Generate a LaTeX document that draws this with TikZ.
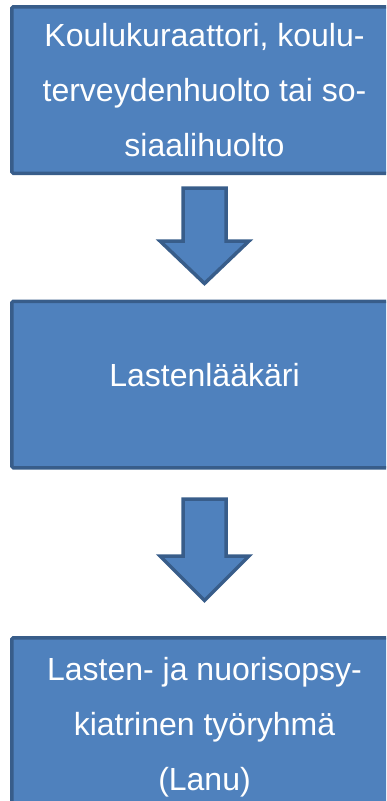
\documentclass[tikz,border=0pt]{standalone}
\usepackage{fontspec}
\setmainfont{Liberation Sans}
\usepackage{tikz}

\definecolor{laatikkosini}{HTML}{4F81BD}
\definecolor{reunasini}{HTML}{385D8A}

\tikzset{
  laatikko/.style={draw=reunasini, fill=laatikkosini, line width=3.5pt,
    rounded corners=1.5pt, minimum width=385.5pt, minimum height=166.5pt,
    align=center, text=white, inner sep=0pt,
    font=\fontsize{32}{55}\selectfont},
  nuoli/.style={draw=reunasini, fill=laatikkosini, line width=3.5pt}
}

\begin{document}
\begin{tikzpicture}[x=1pt,y=-1pt]
        \useasboundingbox (0,0) rectangle (386,801);
        \clip (0,0) rectangle (386,801);
        % the three steps
        \node[laatikko] (kuraattori) at (204.5,90) {Koulukuraattori, koulu-\\terveydenhuolto tai so-\\siaalihuolto};
        \node[laatikko, text depth=20pt] (laakari) at (204.5,384.5) {Lastenlääkäri};
        \node[laatikko] (lanu) at (204.5,721) {\rule{0pt}{36pt}Lasten- ja nuorisopsy-\\kiatrinen työryhmä\\(Lanu)};
        % block arrows between them
        \foreach \ylin/\kanta/\karki in {188/241/283.5, 499/556/600.5}
            \draw[nuoli] (183,\ylin) -- (226,\ylin) -- (226,\kanta) -- (249,\kanta)
                -- (204.5,\karki) -- (160,\kanta) -- (183,\kanta) -- cycle;
    \end{tikzpicture}
\end{document}
